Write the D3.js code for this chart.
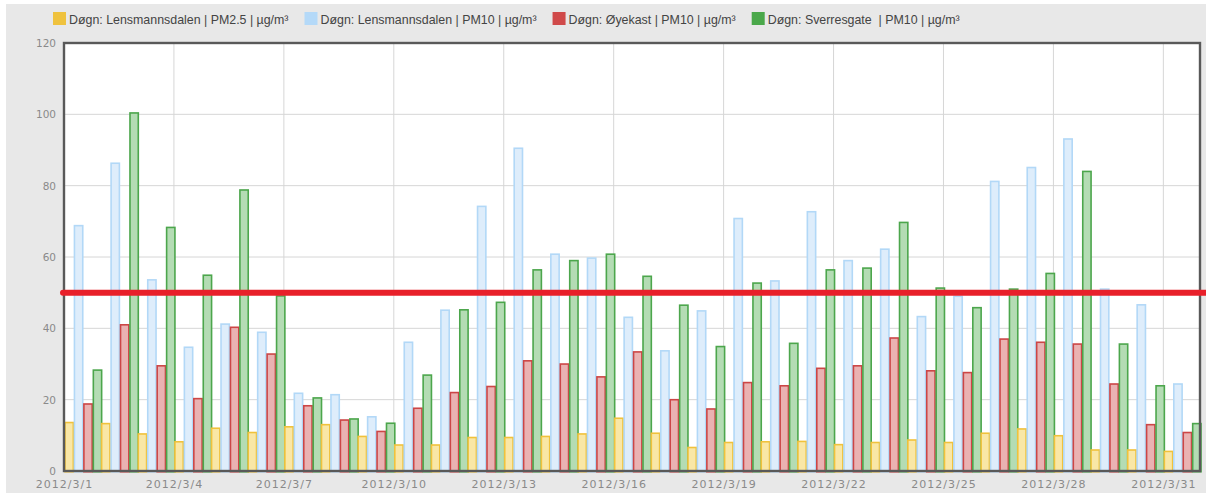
<!DOCTYPE html>
<html>
<head>
<meta charset="utf-8">
<script src="https://cdn.jsdelivr.net/npm/d3@7"></script>
<style>
  body { margin: 0; background: #fff; }
  svg { display: block; }
  .legend text { white-space: pre; }
</style>
</head>
<body>
<svg id="chart"></svg>
<script>
// days of March 2012
var days = d3.range(1, 32).map(function(d){ return new Date(Date.UTC(2012, 2, d)); });

var seriesNames = [
  "Døgn: Lensmannsdalen | PM2.5 | µg/m³",
  "Døgn: Lensmannsdalen | PM10 | µg/m³",
  "Døgn: Øyekast | PM10 | µg/m³",
  "Døgn: Sverresgate  | PM10 | µg/m³"
];

var pm25Lens = [13.8,13.5,10.6,8.4,12.2,11.0,12.6,13.2,9.9,7.5,7.5,9.6,9.6,9.9,10.6,15.0,10.8,6.8,8.2,8.4,8.5,7.6,8.2,8.9,8.2,10.8,12.0,10.1,6.1,6.1,5.7];
var pm10Lens = [69,86.5,53.8,34.9,41.4,39.1,22,21.6,15.4,36.3,45.3,74.4,90.7,61,59.9,43.3,33.9,45.1,71,53.5,72.9,59.2,62.4,43.5,49.2,81.4,85.3,93.3,51.2,46.8,24.6];
var pm10Oye  = [19,41.2,29.7,20.5,40.5,33,18.5,14.5,11.3,17.8,22.2,23.9,31.1,30.2,26.6,33.6,20.2,17.6,25,24.1,29,29.7,37.5,28.3,27.8,37.2,36.3,35.8,24.6,13.2,11.0];
var pm10Sverre = [28.5,100.6,68.5,55.1,79,49.3,20.7,14.8,13.6,27.1,45.4,47.5,56.6,59.2,61,54.8,46.7,35.1,52.9,36,56.6,57.1,69.9,51.5,46,51.2,55.6,84.2,35.8,24.1,13.5];

var yTicks = [0, 20, 40, 60, 80, 100, 120];
var limitValue = 50;

var strokeColors = ["#f0c23c", "#b2d8f7", "#cc4646", "#4ca64c"];
var fillColors   = ["#f9e7a6", "#deedfb", "#eab2b2", "#b4dcb4"];
var legendColors = ["#efc23e", "#b4d9f8", "#d04a4a", "#4aa84a"];

var allSeries = [pm25Lens, pm10Lens, pm10Oye, pm10Sverre];

var W = 1206, H = 495;
var margin = {top: 43, right: 6, bottom: 24, left: 64};

var svg = d3.select("#chart").attr("width", W).attr("height", H);

// grey page background
svg.append("rect").attr("x", 6).attr("y", 4).attr("width", W - 6).attr("height", H - 6)
  .attr("fill", "#e8e8e8");

var x = d3.scaleUtc()
  .domain([days[0], d3.utcDay.offset(days[days.length - 1], 1)])
  .range([margin.left, W - margin.right]);

var y = d3.scaleLinear().domain([0, 120]).range([H - margin.bottom, margin.top]);

var plotW = x.range()[1] - x.range()[0];
var plotH = y.range()[0] - y.range()[1];

svg.append("rect")
  .attr("x", margin.left).attr("y", margin.top)
  .attr("width", plotW).attr("height", plotH)
  .attr("fill", "#fff");

// grid lines
svg.append("g").selectAll("line").data(yTicks.slice(1, -1)).enter().append("line")
  .attr("x1", margin.left).attr("x2", margin.left + plotW)
  .attr("y1", function(d){ return y(d); }).attr("y2", function(d){ return y(d); })
  .attr("stroke", "#d6d6d6").attr("stroke-width", 1);

var xTickDays = days.filter(function(d, i){ return i % 3 === 0; });

svg.append("g").selectAll("line").data(xTickDays.slice(1)).enter().append("line")
  .attr("x1", function(d){ return x(d); }).attr("x2", function(d){ return x(d); })
  .attr("y1", margin.top).attr("y2", margin.top + plotH)
  .attr("stroke", "#d6d6d6").attr("stroke-width", 1);

// bars
var dayW = x(days[1]) - x(days[0]);
var inner = d3.scaleBand().domain(d3.range(4)).range([1, dayW + 1]).paddingInner(0.12);

var barRows = [];
days.forEach(function(d, i){
  allSeries.forEach(function(s, k){
    barRows.push({date: d, k: k, value: s[i]});
  });
});

svg.append("g").selectAll("rect").data(barRows).enter().append("rect")
  .attr("x", function(d){ return x(d.date) + inner(d.k); })
  .attr("width", inner.bandwidth())
  .attr("y", function(d){ return y(d.value) + 0.75; })
  .attr("height", function(d){ return y(0) - y(d.value); })
  .attr("fill", function(d){ return fillColors[d.k]; })
  .attr("stroke", function(d){ return strokeColors[d.k]; })
  .attr("stroke-width", 1.6);

// frame
svg.append("rect")
  .attr("x", margin.left).attr("y", margin.top)
  .attr("width", plotW).attr("height", plotH)
  .attr("fill", "none").attr("stroke", "#595959").attr("stroke-width", 2.4);

// limit line
svg.append("line")
  .attr("x1", margin.left - 1).attr("x2", W + 10)
  .attr("y1", y(limitValue)).attr("y2", y(limitValue))
  .attr("stroke", "#e8202a").attr("stroke-width", 6).attr("stroke-linecap", "round");

// axes
var yAxis = d3.axisLeft(y).tickValues(yTicks).tickSize(0).tickPadding(8);
var gy = svg.append("g").attr("transform", "translate(" + margin.left + ",0)").call(yAxis);
gy.select(".domain").remove();
gy.selectAll("text").attr("fill", "#8a8a8a").style("font-family", "DejaVu Sans, Verdana, sans-serif").style("font-size", "10.5px");

var fmt = function(d){ return d.getUTCFullYear() + "/" + (d.getUTCMonth() + 1) + "/" + d.getUTCDate(); };
var xAxis = d3.axisBottom(x).tickValues(xTickDays).tickFormat(fmt).tickSize(0).tickPadding(9);
var gx = svg.append("g").attr("transform", "translate(0," + (margin.top + plotH) + ")").call(xAxis);
gx.select(".domain").remove();
gx.selectAll("text").attr("fill", "#8a8a8a").style("font-family", "DejaVu Sans, Verdana, sans-serif")
  .style("font-size", "11px").style("letter-spacing", "1px");

// legend
var legend = svg.append("g").attr("class", "legend");
var lx = 53;
seriesNames.forEach(function(name, k){
  legend.append("rect").attr("x", lx).attr("y", 12).attr("width", 13).attr("height", 13)
    .attr("fill", legendColors[k]);
  var t = legend.append("text").attr("x", lx + 16).attr("y", 24)
    .attr("fill", "#444")
    .style("font-family", "Liberation Sans, Arial, sans-serif").style("font-size", "12.4px")
    .text(name);
  lx = lx + 16 + t.node().getComputedTextLength() + 16;
});
</script>
</body>
</html>
